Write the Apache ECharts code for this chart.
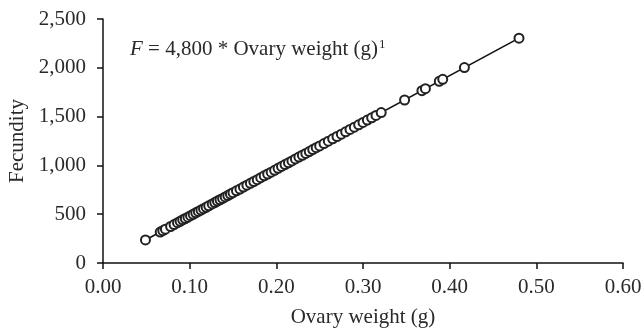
<!DOCTYPE html>
<html>
<head>
<meta charset="utf-8">
<script src="https://cdn.jsdelivr.net/npm/echarts@6/dist/echarts.min.js"></script>
<style>
  html, body { margin: 0; padding: 0; background: #fff; }
  #chart { width: 644px; height: 330px; }
</style>
</head>
<body>
<div id="chart"></div>
<script>
const ovaryWeight = [
  0.049, 0.066, 0.069, 0.072, 0.078, 0.082, 0.086, 0.089, 0.092, 0.095,
  0.098, 0.101, 0.104, 0.107, 0.110, 0.113, 0.116, 0.119, 0.122, 0.126,
  0.129, 0.132, 0.135, 0.138, 0.141, 0.144, 0.147, 0.150, 0.154, 0.158,
  0.162, 0.166, 0.170, 0.174, 0.178, 0.182, 0.186, 0.190, 0.194, 0.198,
  0.202, 0.206, 0.210, 0.214, 0.218, 0.222, 0.226, 0.230, 0.234, 0.238,
  0.242, 0.246, 0.250, 0.255, 0.260, 0.265, 0.270, 0.275, 0.280, 0.285,
  0.290, 0.295, 0.300, 0.305, 0.310, 0.315, 0.321, 0.348, 0.368, 0.372,
  0.388, 0.392, 0.417, 0.480
];
const fecundity = [
  236, 317, 331, 346, 374, 394, 413, 427, 442, 456,
  470, 485, 499, 514, 528, 542, 557, 571, 586, 605,
  619, 634, 648, 662, 677, 691, 706, 720, 739, 758,
  778, 797, 816, 835, 854, 874, 893, 912, 931, 950,
  970, 989, 1008, 1027, 1046, 1066, 1085, 1104, 1123, 1142,
  1162, 1181, 1200, 1224, 1248, 1272, 1296, 1320, 1344, 1368,
  1392, 1416, 1440, 1464, 1488, 1512, 1541, 1670, 1766, 1786,
  1862, 1882, 2002, 2304
];
// fitted line end points
const fitX = [0.049, 0.480];
const fitY = [236, 2304];

const xTicks = [0, 0.1, 0.2, 0.3, 0.4, 0.5, 0.6];
const yTicks = [0, 500, 1000, 1500, 2000, 2500];

const serif = "Liberation Serif";
const ink = "#2a2a2a";
const chart = echarts.init(document.getElementById("chart"));

const axisCommon = {
  axisLine: { lineStyle: { color: "#111", width: 1.5 } },
  axisTick: { inside: false, length: 6, lineStyle: { color: "#111", width: 1.5 } },
  splitLine: { show: false },
  nameTextStyle: { fontFamily: serif, fontSize: 21, color: ink },
};

chart.setOption({
  animation: false,
  grid: { left: 103, right: 21, top: 19, bottom: 67, outerBoundsMode: "none" },
  xAxis: {
    ...axisCommon,
    type: "value",
    min: xTicks[0],
    max: xTicks[xTicks.length - 1],
    interval: 0.1,
    name: "Ovary weight (g)",
    nameLocation: "middle",
    nameGap: 44,
    axisLabel: {
      fontFamily: serif, fontSize: 21, color: ink, margin: 14,
      formatter: (v) => v.toFixed(2),
    },
  },
  yAxis: {
    ...axisCommon,
    type: "value",
    min: yTicks[0],
    max: yTicks[yTicks.length - 1],
    interval: 500,
    name: "Fecundity",
    nameLocation: "middle",
    nameGap: 72,
    axisLabel: {
      fontFamily: serif, fontSize: 21, color: ink, margin: 17,
      formatter: (v) => v.toLocaleString("en-US"),
    },
  },
  graphic: [
    {
      type: "text",
      left: 130,
      top: 38,
      style: {
        text: "{i|F} = 4,800 * Ovary weight (g){s|1}",
        fontFamily: serif,
        fontSize: 21,
        fill: ink,
        rich: {
          i: { fontFamily: serif, fontSize: 21, fontStyle: "italic", fill: ink },
          s: { fontFamily: serif, fontSize: 13, fill: ink, verticalAlign: "top", padding: [0, 0, 9, 1] },
        },
      },
    },
  ],
  series: [
    {
      type: "line",
      data: fitX.map((x, i) => [x, fitY[i]]),
      symbol: "none",
      lineStyle: { color: "#111", width: 1.6 },
      z: 2,
    },
    {
      type: "scatter",
      data: ovaryWeight.map((x, i) => [x, fecundity[i]]),
      symbol: "emptyCircle",
      symbolSize: 9,
      itemStyle: { color: "#222", borderColor: "#222", borderWidth: 1.4, opacity: 1 },
      z: 3,
    },
  ],
});
</script>
</body>
</html>
